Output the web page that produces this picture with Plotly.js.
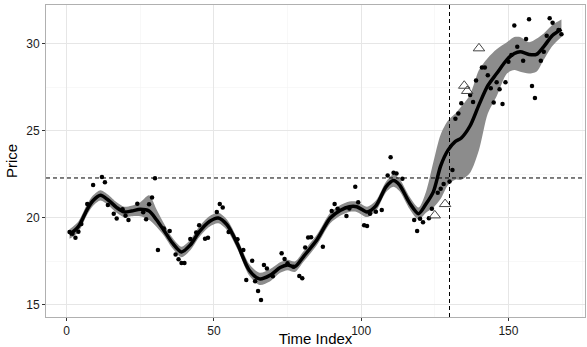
<!DOCTYPE html>
<html>
<head>
<meta charset="utf-8">
<script src="https://cdn.plot.ly/plotly-3.0.1.min.js"></script>
<style>
html,body{margin:0;padding:0;background:#fff;}
#chart{width:587px;height:347px;}
</style>
</head>
<body>
<div id="chart"></div>
<script>
// Observed points
var obsX = [1,2,3,4,5,7,9,12,13,14,16,17,19,20,21,24,26,27,28,29,30,31,33,35,37,38,39,40,42,44,45,47,48,51,52,53,55,58,60,61,63,64,65,66,67,68,70,73,74,75,77,79,80,81,82,83,87,90,91,92,95,96,98,99,101,102,103,105,107,109,110,111,112,114,118,119,120,121,123,124,126,127,128,130,131,132,133,134,137,138,139,141,142,143,144,145,146,147,148,149,150,151,152,153,155,156,157,158,159,161,162,163,164,165,167,168];
var obsY = [19.2,19.1,18.87,19.21,19.66,20.8,21.9,22.36,22.05,20.75,20.25,19.97,20.5,20.13,19.88,20.82,20.33,19.93,20.79,21.18,22.28,18.16,19.4,19.25,17.9,17.63,17.42,17.42,18.79,19.17,19.58,18.8,18.87,20.35,20.8,20.6,19.19,18.78,18.16,16.44,17.54,16.36,15.8,15.29,17.3,17.1,16.65,17.97,17.64,17.4,17.2,16.67,16.53,18.31,18.88,18.89,18.34,20.4,20.8,20.53,20.12,20.55,21.8,20.9,19.58,19.54,20.25,20.36,20.46,22.44,23.49,22.6,22.55,22.25,19.88,19.25,19.95,19.75,19.98,20.53,21.45,21.68,21.95,22.09,22.76,25.7,26.0,26.6,27.07,26.66,27.9,28.65,28.65,28.2,27.45,26.63,27.8,27.4,26.55,27.8,28.98,29.37,31.06,29.84,29.04,30.28,31.42,27.59,26.9,29.04,29.56,30.47,31.48,31.22,30.8,30.56];

// Held-out points (triangles)
var triX = [125,128.5,135,136,140];
var triY = [20.15,20.8,27.6,27.3,29.75];

// Smooth fit and band
var fitX = [1,4,7,9,11.5,14,17,19.5,22,25,28,30.5,33,36,39,42,45,48.5,51.5,54.5,58,62,65.5,69,72.5,75,77.5,80.5,85,89.5,93,96,98.5,102,105,108.5,111,113,116.5,119.5,122,124.5,127,129.5,132,134,137,140,143,146,149.5,152,154,157,159.5,162,165,168];
var fitY = [19.05,19.5,20.5,21.0,21.3,21.05,20.6,20.35,20.4,20.5,20.4,19.9,19.3,18.55,18.05,18.45,19.2,19.8,20.0,19.6,18.5,17.0,16.5,16.7,17.15,17.3,17.2,17.8,18.75,20.0,20.45,20.65,20.65,20.35,20.7,21.8,22.15,21.9,20.85,20.25,20.8,21.5,23.0,23.9,24.4,24.6,25.3,26.5,27.6,28.3,29.1,29.45,29.55,29.4,29.4,29.85,30.5,30.85];
var fitLo = [18.8,19.2,20.2,20.7,21.0,20.75,20.3,20.05,20.1,20.1,19.9,19.5,19.0,18.25,17.75,18.15,18.9,19.5,19.7,19.3,18.2,16.7,16.15,16.35,16.85,17.0,16.9,17.5,18.45,19.7,20.15,20.35,20.35,20.05,20.4,21.5,21.8,21.55,20.5,19.9,20.3,20.6,21.1,21.9,22.2,22.2,22.6,23.9,26.0,27.0,28.3,28.5,28.4,28.3,28.4,29.1,29.9,30.4];
var fitHi = [19.35,19.8,20.8,21.3,21.6,21.35,20.9,20.65,20.7,20.9,21.3,20.5,19.7,18.85,18.35,18.75,19.5,20.1,20.3,19.9,18.8,17.35,16.85,17.05,17.45,17.6,17.5,18.1,19.05,20.3,20.75,20.95,20.95,20.65,21.0,22.1,22.5,22.25,21.2,20.6,21.5,23.2,24.8,25.6,26.0,26.4,27.1,28.5,29.2,29.7,30.1,30.4,30.4,30.1,30.3,30.6,31.1,31.4];

// Reference lines
var vlineX = 130;
var hlineY = 22.3;

var xTicks = [0,50,100,150];
var yTicks = [15,20,25,30];

var traces = [
  {x: fitX, y: fitLo, mode:'lines', line:{width:0, shape:'spline', smoothing:0.8}, hoverinfo:'skip', showlegend:false},
  {x: fitX, y: fitHi, mode:'lines', fill:'tonexty', fillcolor:'#8c8c8c', line:{width:0, shape:'spline', smoothing:0.8}, hoverinfo:'skip', showlegend:false},
  {x: obsX, y: obsY, mode:'markers', marker:{size:4.5, color:'#000'}, showlegend:false},
  {x: fitX, y: fitY, mode:'lines', line:{width:3.5, color:'#000', shape:'spline', smoothing:0.8}, showlegend:false},
  {x: triX, y: triY, mode:'markers', marker:{symbol:'triangle-up-open', size:10, color:'#444', line:{width:1, color:'#444'}}, showlegend:false}
];

var layout = {
  width:587, height:347,
  margin:{l:46, r:2, t:5, b:30},
  paper_bgcolor:'#fff', plot_bgcolor:'#fff',
  font:{family:'Liberation Sans, Arial, sans-serif', color:'#1a1a1a', size:12},
  xaxis:{
    range:[-7, 176], tickvals:xTicks, ticktext:xTicks.map(String),
    ticks:'outside', ticklen:3, tickcolor:'#333', tickfont:{size:12, color:'#1a1a1a'},
    showgrid:true, gridcolor:'#e6e6e6', gridwidth:1,
    minor:{dtick:25, tick0:0, showgrid:true, gridcolor:'#f3f3f3', gridwidth:0.6, ticks:''},
    zeroline:false, showline:true, mirror:true, linecolor:'#b0b0b0', linewidth:1,
    title:{text:'Time Index', font:{size:15, color:'#000'}, standoff:2}
  },
  yaxis:{
    range:[14.31, 32.24], tickvals:yTicks, ticktext:yTicks.map(String),
    ticks:'outside', ticklen:3, tickcolor:'#333', tickfont:{size:12, color:'#1a1a1a'},
    showgrid:true, gridcolor:'#e6e6e6', gridwidth:1,
    minor:{dtick:2.5, tick0:15, showgrid:true, gridcolor:'#f3f3f3', gridwidth:0.6, ticks:''},
    zeroline:false, showline:true, mirror:true, linecolor:'#b0b0b0', linewidth:1,
    title:{text:'Price', font:{size:15, color:'#000'}, standoff:4}
  },
  shapes:[
    {type:'line', xref:'x', yref:'paper', x0:vlineX, x1:vlineX, y0:0, y1:1, line:{color:'#000', width:1, dash:'4px,3px'}},
    {type:'line', xref:'paper', yref:'y', x0:0, x1:1, y0:hlineY, y1:hlineY, line:{color:'#000', width:1, dash:'4px,3px'}}
  ]
};

Plotly.newPlot('chart', traces, layout, {staticPlot:true, displayModeBar:false});
</script>
</body>
</html>
